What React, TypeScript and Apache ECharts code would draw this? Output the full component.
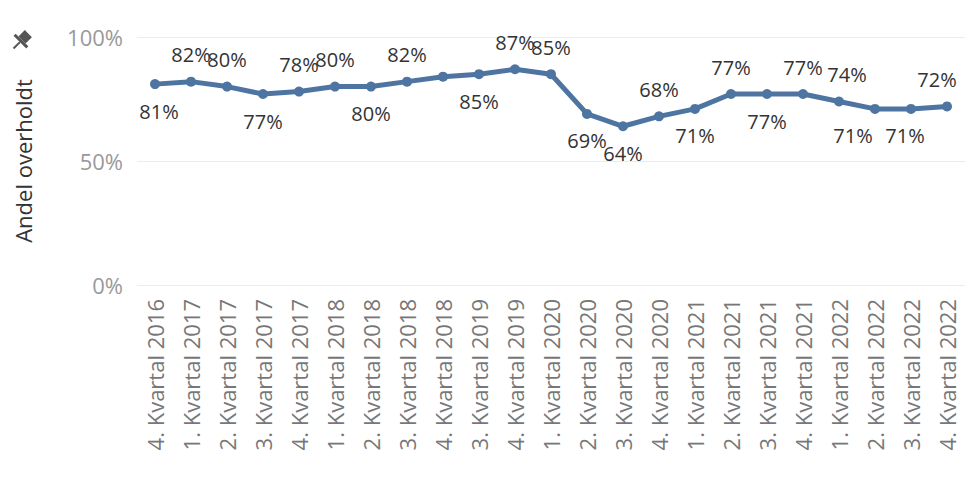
import React, { useEffect, useRef } from "react";
import * as echarts from "echarts";

const quarters = [
  "4. Kvartal 2016", "1. Kvartal 2017", "2. Kvartal 2017", "3. Kvartal 2017", "4. Kvartal 2017",
  "1. Kvartal 2018", "2. Kvartal 2018", "3. Kvartal 2018", "4. Kvartal 2018", "3. Kvartal 2019",
  "4. Kvartal 2019", "1. Kvartal 2020", "2. Kvartal 2020", "3. Kvartal 2020", "4. Kvartal 2020",
  "1. Kvartal 2021", "2. Kvartal 2021", "3. Kvartal 2021", "4. Kvartal 2021", "1. Kvartal 2022",
  "2. Kvartal 2022", "3. Kvartal 2022", "4. Kvartal 2022",
];
const shares = [81, 82, 80, 77, 78, 80, 80, 82, 84, 85, 87, 85, 69, 64, 68, 71, 77, 77, 77, 74, 71, 71, 72];
// label placement: "top", "bottom" or "" (hidden)
const labelPos = [
  "bottom", "top", "top", "bottom", "top", "top", "bottom", "top", "", "bottom", "top", "top",
  "bottom", "bottom", "top", "bottom", "top", "bottom", "top", "top", "bottom", "bottom", "top",
];
// small horizontal nudges where Tableau moved labels apart
const labelShift = [4, 0, 0, 0, 0, 0, 0, 0, 0, 0, 0, 0, 0, 0, 0, 0, 0, 0, 0, 8, -22, -6, -10];

const font = "Open Sans";

export default function App() {
  const chartRef = useRef<HTMLDivElement>(null);

  useEffect(() => {
    if (!chartRef.current) return;
    const chart = echarts.init(chartRef.current, undefined, { renderer: "svg" });
    chart.setOption({
      animation: false,
      grid: { left: 137, right: 0, top: 37, bottom: 204 },
      xAxis: {
        type: "category",
        data: quarters,
        axisTick: { show: false },
        axisLine: { show: false },
        splitLine: { show: false },
        axisLabel: {
          rotate: 90, interval: 0, color: "#777", fontSize: 22, fontFamily: font, margin: 14,
        },
      },
      yAxis: {
        type: "value",
        min: 0,
        max: 100,
        interval: 50,
        name: "Andel overholdt",
        nameLocation: "middle",
        nameGap: 103,
        nameTextStyle: { color: "#333", fontSize: 22, fontFamily: font },
        axisLabel: { formatter: "{value}%", color: "#999", fontSize: 22, fontFamily: font, margin: 14 },
        splitLine: { lineStyle: { color: "#ececec" } },
      },
      series: [
        {
          type: "line",
          data: shares.map((v, i) => ({
            value: v,
            label: {
              show: labelPos[i] !== "",
              position: labelPos[i] || "top",
              offset: [labelShift[i], 0],
            },
          })),
          symbol: "circle",
          symbolSize: 10,
          lineStyle: { color: "#4e75a1", width: 5 },
          itemStyle: { color: "#4e75a1" },
          label: {
            formatter: "{c}%",
            color: "#333",
            fontSize: 20,
            fontFamily: font,
            distance: 12,
          },
        },
      ],
      graphic: [
        {
          type: "group",
          x: 22,
          y: 40,
          rotation: -Math.PI / 4,
          children: [
            { type: "rect", shape: { x: -5, y: -9, width: 10, height: 9 }, style: { fill: "#555" } },
            { type: "rect", shape: { x: -9, y: 0, width: 18, height: 3 }, style: { fill: "#555" } },
            { type: "line", shape: { x1: 0, y1: 3, x2: 0, y2: 12 }, style: { stroke: "#555", lineWidth: 2 } },
          ],
        },
      ],
    });
    return () => chart.dispose();
  }, []);

  return (
    <div
      ref={chartRef}
      style={{ position: "absolute", left: 0, top: 0, width: 965, height: 489 }}
    />
  );
}
